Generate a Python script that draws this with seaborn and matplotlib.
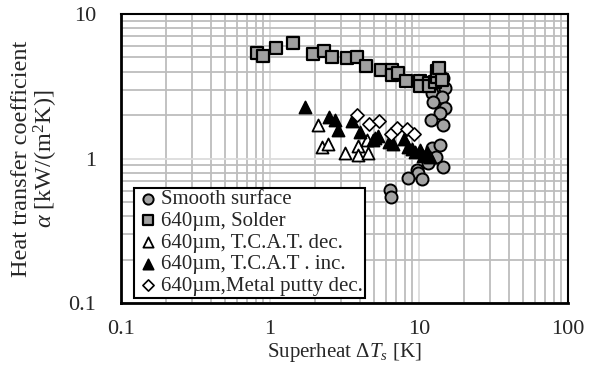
import matplotlib
matplotlib.use("Agg")
import matplotlib.pyplot as plt
import seaborn as sns
import pandas as pd
from matplotlib.ticker import LogLocator, NullFormatter, FixedLocator, FixedFormatter

# ---- data ----
smooth_x = [14.5, 14.9, 12.2, 14.3, 12.4, 14.9, 13.8, 12.0, 14.5, 12.2, 13.8, 13.0, 11.5, 14.5, 9.7, 9.85, 8.4, 10.5, 6.4, 6.49]
smooth_y = [3.6, 3.08, 2.84, 2.67, 2.46, 2.24, 2.07, 1.85, 1.71, 1.18, 1.24, 1.02, 0.93, 0.87, 0.83, 0.79, 0.73, 0.72, 0.61, 0.54]

solder_x = [0.82, 0.90, 1.10, 1.43, 1.94, 2.30, 2.61, 3.29, 3.84, 4.41, 5.56, 6.59, 6.59, 7.23, 8.18, 10.2, 10.2, 11.7, 11.7, 12.8, 13.2, 13.2, 13.6, 14.3]
solder_y = [5.37, 5.12, 5.82, 6.30, 5.29, 5.55, 5.04, 4.96, 5.04, 4.37, 4.10, 4.10, 3.78, 3.91, 3.44, 3.44, 3.18, 3.33, 3.18, 3.38, 3.66, 4.03, 4.23, 3.49]

tcat_dec_x = [2.10, 2.23, 2.45, 3.19, 3.90, 3.90, 4.55, 4.48]
tcat_dec_y = [1.71, 1.20, 1.26, 1.09, 1.22, 1.06, 1.09, 1.34]

tcat_inc_x = [1.72, 2.49, 2.73, 2.86, 3.55, 4.02, 4.91, 5.07, 5.31, 6.29, 6.69, 7.93, 8.44, 8.98, 9.4, 10.2, 10.6, 11.3, 11.9]
tcat_inc_y = [2.27, 1.94, 1.85, 1.57, 1.82, 1.53, 1.34, 1.39, 1.42, 1.30, 1.26, 1.36, 1.20, 1.16, 1.11, 1.15, 1.04, 1.11, 1.02]

putty_x = [3.84, 4.62, 5.39, 6.49, 7.12, 8.30, 9.25]
putty_y = [2.00, 1.73, 1.82, 1.48, 1.63, 1.60, 1.48]

labels = ["Smooth surface", "640µm, Solder", "640µm, T.C.A.T. dec.",
          "640µm, T.C.A.T . inc.", "640µm,Metal putty dec."]
x_ticks = [0.1, 1, 10, 100]
x_tick_labels = ["0.1", "1", "10", "100"]
y_ticks = [0.1, 1, 10]
y_tick_labels = ["0.1", "1", "10"]

series = [(smooth_x, smooth_y), (solder_x, solder_y), (tcat_dec_x, tcat_dec_y),
          (tcat_inc_x, tcat_inc_y), (putty_x, putty_y)]
frames = []
for lab, (xs, ys) in zip(labels, series):
    frames.append(pd.DataFrame({"x": xs, "y": ys, "series": lab}))
df = pd.concat(frames, ignore_index=True)

# ---- style ----
sns.set_style("white")
plt.rcParams["font.family"] = ["Liberation Serif", "DejaVu Serif"]
plt.rcParams["mathtext.fontset"] = "custom"
plt.rcParams["mathtext.rm"] = "Liberation Serif"
plt.rcParams["mathtext.it"] = "Liberation Serif:italic"

fig = plt.figure(figsize=(5.94, 3.74), dpi=100)
ax = fig.add_axes([121 / 594, 1 - 303 / 374, 447 / 594, 289 / 374])

styles = {
    labels[0]: dict(marker="o", facecolor="#a3a3a3", edgecolor="black", s=75, linewidth=1.4),
    labels[1]: dict(marker="s", facecolor="#a0a0a0", edgecolor="black", s=75, linewidth=1.6),
    labels[2]: dict(marker="^", facecolor="white", edgecolor="black", s=75, linewidth=1.3),
    labels[3]: dict(marker="^", facecolor="black", edgecolor="black", s=75, linewidth=1.3),
    labels[4]: dict(marker="D", facecolor="white", edgecolor="black", s=45, linewidth=1.2),
}
for i, lab in enumerate(labels):
    st = styles[lab]
    sns.scatterplot(data=df[df["series"] == lab], x="x", y="y", ax=ax,
                    marker=st["marker"], color=st["facecolor"], edgecolor=st["edgecolor"],
                    s=st["s"], linewidth=st["linewidth"], label=lab, zorder=3 + i)

ax.set_xscale("log")
ax.set_yscale("log")
ax.set_xlim(0.1, 100)
ax.set_ylim(0.1, 10)

ax.xaxis.set_major_locator(FixedLocator(x_ticks))
ax.xaxis.set_major_formatter(FixedFormatter(x_tick_labels))
ax.yaxis.set_major_locator(FixedLocator(y_ticks))
ax.yaxis.set_major_formatter(FixedFormatter(y_tick_labels))
ax.xaxis.set_minor_locator(LogLocator(base=10, subs=range(2, 10)))
ax.yaxis.set_minor_locator(LogLocator(base=10, subs=range(2, 10)))
ax.xaxis.set_minor_formatter(NullFormatter())
ax.yaxis.set_minor_formatter(NullFormatter())

ax.grid(True, which="minor", color="#bdbdbd", linewidth=1.3, zorder=0)
ax.grid(True, which="major", color="#dcdcdc", linewidth=1.3, zorder=0)
ax.set_axisbelow(True)

ax.tick_params(axis="both", which="major", direction="in", length=8, width=1.3,
               labelsize=16, color="black", top=False, right=False)
ax.tick_params(axis="both", which="minor", direction="in", length=6, width=1.3,
               color="black", top=False, right=False)
ax.tick_params(axis="y", which="major", pad=18)
ax.tick_params(axis="x", which="major", pad=12)

for sp in ax.spines.values():
    sp.set_color("black")
    sp.set_linewidth(1.5)
ax.spines["left"].set_linewidth(2)
ax.spines["bottom"].set_linewidth(2)

ax.set_xlabel(r"Superheat $\Delta T_s$ [K]", fontsize=15, labelpad=2)
ax.set_ylabel("Heat transfer coefficient\n" + r"$\alpha$ [kW/(m$^2$K)]", fontsize=17.5,
              labelpad=6, linespacing=1.0)

leg = ax.legend(loc="lower left", bbox_to_anchor=(13 / 447, 5 / 289), borderaxespad=0,
                fontsize=15, frameon=True, fancybox=False, edgecolor="black",
                framealpha=1, borderpad=0.1, labelspacing=0.1, handlelength=1.1,
                handletextpad=0.1, markerscale=0.85)
leg.get_frame().set_linewidth(1.5)
leg.set_zorder(20)

fig.savefig("out.png", dpi=100)
